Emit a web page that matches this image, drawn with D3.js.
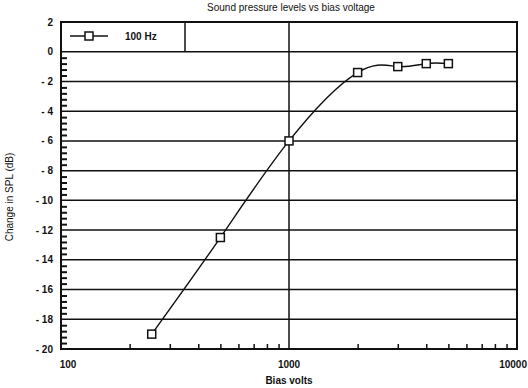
<!DOCTYPE html>
<html>
<head>
<meta charset="utf-8">
<script src="https://d3js.org/d3.v7.min.js"></script>
<style>
  body { margin: 0; background: #fff; }
  text { font-family: "Liberation Sans", Arial, sans-serif; fill: #111; }
</style>
</head>
<body>
<svg id="chart" width="528" height="388"></svg>
<script>
// data
const biasVolts = [250, 500, 1000, 2000, 3000, 4000, 5000];
const splChange = [-19, -12.5, -6, -1.4, -1.0, -0.8, -0.8];
const yTicks = [2, 0, -2, -4, -6, -8, -10, -12, -14, -16, -18, -20];
const xTicks = [100, 1000, 10000];
const seriesName = "100 Hz";

const svg = d3.select("svg#chart");
const plotL = 61, plotR = 517, plotT = 22, plotB = 349;

const x = d3.scaleLog().domain([100, 10000]).range([plotL, plotR]);
const y = d3.scaleLinear().domain([-20, 2]).range([plotB, plotT]);

// title
svg.append("text")
    .attr("x", 291).attr("y", 11)
    .attr("text-anchor", "middle")
    .style("font-size", "10px")
    .text("Sound pressure levels vs bias voltage");

// horizontal gridlines
svg.append("g")
    .selectAll("line")
    .data(yTicks.filter(d => d < 2 && d > -20))
    .join("line")
    .attr("x1", plotL).attr("x2", plotR)
    .attr("y1", d => y(d)).attr("y2", d => y(d))
    .attr("stroke", "#111").attr("stroke-width", 1.5);

// vertical gridline at 1000
svg.append("line")
    .attr("x1", x(1000)).attr("x2", x(1000))
    .attr("y1", plotT).attr("y2", plotB)
    .attr("stroke", "#111").attr("stroke-width", 1.5);

// minor ticks on the left axis (every 0.4 dB)
const yMinor = d3.range(-20, 0.01, 0.4).map(v => +v.toFixed(1)).filter(v => Math.abs(v % 2) > 0.01);
svg.append("g")
    .attr("transform", `translate(${plotL},0)`)
    .call(d3.axisLeft(y).tickValues(yMinor).tickSize(-6).tickFormat(""))
    .call(g => g.select(".domain").remove())
    .selectAll("line").attr("stroke", "#111").attr("stroke-width", 2);

// minor ticks on the bottom axis
const xMinor = [2,3,4,5,6,7,8,9].flatMap(k => [k * 100, k * 1000]);
svg.append("g")
    .attr("transform", `translate(0,${plotB})`)
    .call(d3.axisBottom(x).tickValues(xMinor).tickSize(-5).tickFormat(""))
    .call(g => g.select(".domain").remove())
    .selectAll("line").attr("stroke", "#111").attr("stroke-width", 1.5);

// y tick labels
svg.append("g")
    .selectAll("text")
    .data(yTicks)
    .join("text")
    .attr("x", 53).attr("y", d => y(d) + 3.5)
    .attr("text-anchor", "end")
    .style("font-size", "10px").style("font-weight", "bold")
    .text(d => d < 0 ? "- " + Math.abs(d) : d);

// x tick labels (last one kept inside the page edge)
svg.append("g")
    .selectAll("text")
    .data(xTicks)
    .join("text")
    .attr("x", d => d === 100 ? x(d) + 7 : d === 10000 ? 527 : x(d))
    .attr("y", 368)
    .attr("text-anchor", d => d === 10000 ? "end" : "middle")
    .style("font-size", "10px").style("font-weight", "bold")
    .text(d => d);

// axis titles
svg.append("text")
    .attr("x", 289).attr("y", 384)
    .attr("text-anchor", "middle")
    .style("font-size", "10px").style("font-weight", "bold")
    .text("Bias volts");

svg.append("text")
    .attr("transform", "translate(13,197) rotate(-90)")
    .attr("text-anchor", "middle")
    .style("font-size", "10px")
    .text("Change in SPL (dB)");

// legend cell
svg.append("line")
    .attr("x1", 185).attr("x2", 185)
    .attr("y1", plotT).attr("y2", y(0))
    .attr("stroke", "#111").attr("stroke-width", 1.5);
svg.append("line")
    .attr("x1", 70).attr("x2", 108)
    .attr("y1", 36).attr("y2", 36)
    .attr("stroke", "#111").attr("stroke-width", 1.5);
svg.append("rect")
    .attr("x", 85).attr("y", 32).attr("width", 8).attr("height", 8)
    .attr("fill", "#fff").attr("stroke", "#111").attr("stroke-width", 1.5);
svg.append("text")
    .attr("x", 125).attr("y", 40)
    .style("font-size", "10px").style("font-weight", "bold")
    .text(seriesName);

// frame
svg.append("rect")
    .attr("x", plotL).attr("y", plotT)
    .attr("width", plotR - plotL).attr("height", plotB - plotT)
    .attr("fill", "none").attr("stroke", "#111").attr("stroke-width", 2);

// curve
const pts = biasVolts.map((v, i) => [v, splChange[i]]);
const line = d3.line()
    .x(d => x(d[0])).y(d => y(d[1]))
    .curve(d3.curveNatural);
svg.append("path")
    .datum(pts)
    .attr("d", line)
    .attr("fill", "none").attr("stroke", "#111").attr("stroke-width", 1.4);

svg.append("g")
    .selectAll("rect")
    .data(pts)
    .join("rect")
    .attr("x", d => x(d[0]) - 4).attr("y", d => y(d[1]) - 4)
    .attr("width", 8).attr("height", 8)
    .attr("fill", "#fff").attr("stroke", "#111").attr("stroke-width", 1.5);
</script>
</body>
</html>
